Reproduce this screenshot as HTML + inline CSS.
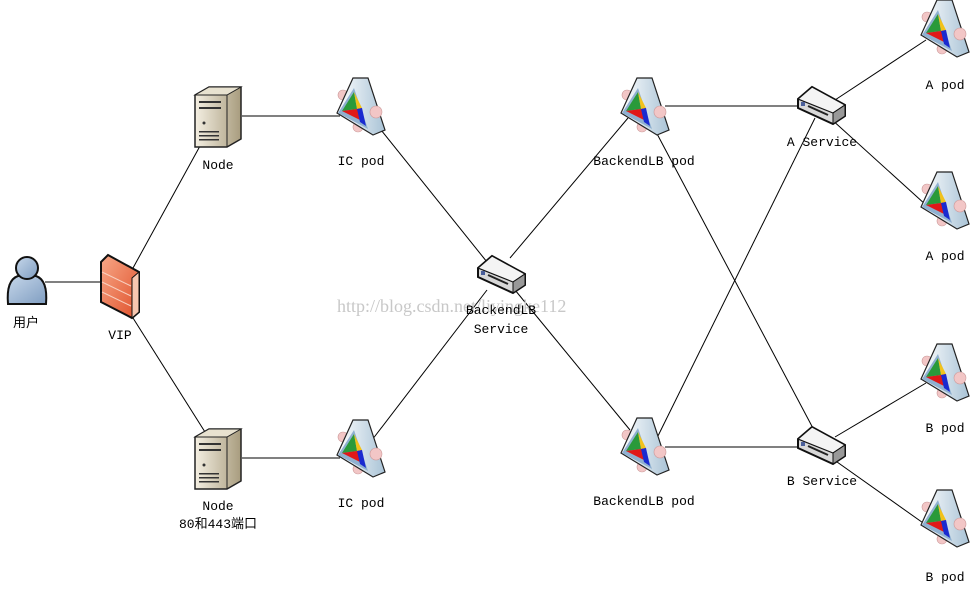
<!DOCTYPE html>
<html><head><meta charset="utf-8"><style>
html,body{margin:0;padding:0;background:#fff;}
svg{display:block}
text{font-family:"Liberation Mono","Noto Sans CJK SC",monospace;font-size:13px;fill:#000;}
</style></head><body>
<svg width="975" height="590" viewBox="0 0 975 590" xmlns="http://www.w3.org/2000/svg">
<defs>
<linearGradient id="pg" x1="0" y1="0" x2="1" y2="0"><stop offset="0" stop-color="#fff"/><stop offset="1" stop-color="#a9c3d6"/></linearGradient>
<linearGradient id="sg" x1="0" y1="0" x2="1" y2="0"><stop offset="0" stop-color="#f4efe2"/><stop offset="1" stop-color="#a89c7e"/></linearGradient>
<linearGradient id="fg" x1="0" y1="0" x2="1" y2="1"><stop offset="0" stop-color="#f7a888"/><stop offset="1" stop-color="#e0502a"/></linearGradient>
<linearGradient id="ug" x1="0" y1="0" x2="1" y2="1"><stop offset="0" stop-color="#c6d7ea"/><stop offset="1" stop-color="#7f9dc1"/></linearGradient>
<g id="pod">
<circle cx="7" cy="17" r="5" fill="#f2c6c6" stroke="#c99" stroke-width="0.6"/>
<circle cx="22" cy="49" r="5" fill="#f2c6c6" stroke="#c99" stroke-width="0.6"/>
<polygon points="17,0 32,0 49,52 37,57 1,35" fill="url(#pg)" stroke="#222" stroke-width="1.2"/>
<circle cx="40" cy="34" r="6" fill="#f2c6c6" stroke="#c99" stroke-width="0.6"/>
<polygon points="18,10 2,35 32,51" fill="#8fb0d0"/>
<polygon points="18,14 6,33 21,31" fill="#2a9a3a"/>
<polygon points="18,14 26,30 21,31" fill="#f2c21a"/>
<polygon points="6,33 21,31 26,30 24,42" fill="#e01818"/>
<polygon points="21,31 26,30 30,48 24,44" fill="#1a2ad0"/>
</g>
<g id="srv">
<polygon points="0,8 14,0 46,0 46,52 32,60 0,60" fill="url(#sg)" stroke="#222" stroke-width="1.5"/>
<polygon points="0,8 14,0 46,0 32,8" fill="#e8e2d0" stroke="#222" stroke-width="1"/>
<line x1="32" y1="8" x2="32" y2="60" stroke="#222" stroke-width="1"/>
<rect x="4" y="14" width="22" height="2" fill="#333"/><rect x="4" y="20" width="22" height="2" fill="#333"/>
<circle cx="9" cy="36" r="1.5" fill="#333"/>
<rect x="4" y="44" width="20" height="1.5" fill="#333"/><rect x="4" y="48" width="20" height="1.5" fill="#333"/><rect x="4" y="52" width="20" height="1.5" fill="#333"/>
</g>
<g id="sw">
<polygon points="0,12 14,0 47,18 47,29 35,37 0,21" fill="#d8d8d8" stroke="#111" stroke-width="2"/>
<polygon points="0,12 14,0 47,18 35,26" fill="#f4f4f4" stroke="#111" stroke-width="1.2"/>
<polygon points="35,26 47,18 47,29 35,37" fill="#999" stroke="#111" stroke-width="1"/>
<rect x="3" y="15" width="4" height="4" fill="#4a5f9a"/>
<line x1="10" y1="19" x2="30" y2="28" stroke="#222" stroke-width="2"/>
</g>
</defs>
<g stroke="#000" stroke-width="1" fill="none">
<line x1="45" y1="282" x2="101" y2="282"/>
<line x1="133" y1="268" x2="200" y2="146"/>
<line x1="133" y1="318" x2="205" y2="432"/>
<line x1="242" y1="116" x2="340" y2="116"/>
<line x1="242" y1="458" x2="340" y2="458"/>
<line x1="381" y1="130" x2="487" y2="262"/>
<line x1="372" y1="440" x2="487" y2="290"/>
<line x1="510" y1="258" x2="628" y2="118"/>
<line x1="515" y1="290" x2="630" y2="430"/>
<line x1="665" y1="106" x2="800" y2="106"/>
<line x1="655" y1="130" x2="815" y2="432"/>
<line x1="655" y1="442" x2="815" y2="118"/>
<line x1="665" y1="447" x2="800" y2="447"/>
<line x1="835" y1="100" x2="926" y2="40"/>
<line x1="830" y1="118" x2="926" y2="205"/>
<line x1="835" y1="437" x2="926" y2="383"/>
<line x1="830" y1="457" x2="926" y2="525"/>
</g>
<g stroke="#111" stroke-width="2" fill="url(#ug)">
<path d="M8,304 Q6,280 18,276 L36,276 Q48,280 46,304 Z"/>
<circle cx="27" cy="268" r="11"/>
</g>
<polygon points="101,262 108,255 139,272 139,312 132,318 101,302" fill="url(#fg)" stroke="#111" stroke-width="2"/>
<polygon points="132,278 139,272 139,312 132,318" fill="#f7c7b0" stroke="#111" stroke-width="1"/>
<g stroke="#f8d0c0" stroke-width="1"><line x1="102" y1="272" x2="131" y2="286"/><line x1="102" y1="282" x2="131" y2="296"/><line x1="102" y1="292" x2="131" y2="306"/></g>
<use href="#srv" x="195" y="87"/>
<use href="#srv" x="195" y="429"/>
<use href="#pod" x="336" y="78"/>
<use href="#pod" x="336" y="420"/>
<use href="#pod" x="620" y="78"/>
<use href="#pod" x="620" y="418"/>
<use href="#pod" x="920" y="0"/>
<use href="#pod" x="920" y="172"/>
<use href="#pod" x="920" y="344"/>
<use href="#pod" x="920" y="490"/>
<use href="#sw" x="478" y="256"/>
<use href="#sw" x="798" y="87"/>
<use href="#sw" x="798" y="427"/>
<text x="337" y="312" style="font-family:'Liberation Serif',serif;font-size:18px;fill:#c8c8c8">http://blog.csdn.net/liyingke112</text>
<g text-anchor="middle">
<text x="26" y="327">用户</text>
<text x="120" y="339">VIP</text>
<text x="218" y="169">Node</text>
<text x="218" y="510">Node</text>
<text x="218" y="528">80和443端口</text>
<text x="361" y="165">IC pod</text>
<text x="361" y="507">IC pod</text>
<text x="501" y="314">BackendLB</text>
<text x="501" y="333">Service</text>
<text x="644" y="165">BackendLB pod</text>
<text x="644" y="505">BackendLB pod</text>
<text x="822" y="146">A Service</text>
<text x="822" y="485">B Service</text>
<text x="945" y="89">A pod</text>
<text x="945" y="260">A pod</text>
<text x="945" y="432">B pod</text>
<text x="945" y="581">B pod</text>
</g>
</svg>
</body></html>
